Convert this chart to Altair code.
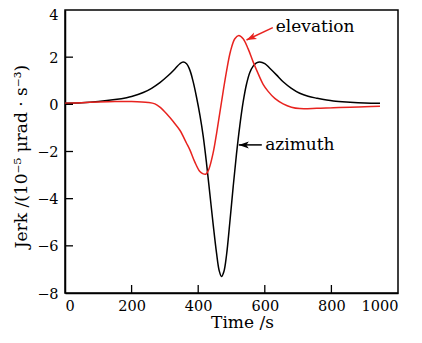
import altair as alt
import pandas as pd

# ---- data ----
az_t = [0, 50, 100, 150, 185, 200, 235, 260, 285, 310, 330, 345, 355, 365, 375, 385, 395,
        405, 415, 425, 435, 445, 455, 463, 470, 477, 485, 495, 505, 515, 525, 535, 545,
        555, 565, 575, 585, 600, 615, 635, 655, 680, 705, 730, 756, 806, 856, 900, 946]
az_v = [0.05, 0.07, 0.12, 0.2, 0.28, 0.33, 0.5, 0.68, 0.92, 1.22, 1.5, 1.72, 1.79, 1.72,
        1.45, 0.95, 0.3, -0.45, -1.35, -2.5, -3.8, -5.1, -6.3, -7.05, -7.3, -7.1, -6.4,
        -5.0, -3.5, -2.1, -0.9, 0.1, 0.85, 1.35, 1.62, 1.76, 1.8, 1.73, 1.53, 1.25, 0.96,
        0.68, 0.47, 0.34, 0.26, 0.14, 0.09, 0.06, 0.05]

el_t = [0, 50, 100, 150, 200, 250, 270, 285, 305, 325, 345, 365, 375, 390, 405, 415, 423,
        432, 445, 455, 465, 475, 485, 497, 510, 522, 535, 550, 565, 580, 595, 610, 630,
        655, 680, 705, 756, 806, 856, 900, 946]
el_v = [0.05, 0.07, 0.1, 0.12, 0.12, 0.08, 0.02, -0.12, -0.4, -0.73, -1.1, -1.65, -1.93,
        -2.45, -2.85, -2.95, -2.96, -2.75, -2.05, -1.25, -0.35, 0.55, 1.4, 2.25, 2.78, 2.92,
        2.78, 2.35, 1.8, 1.3, 0.85, 0.55, 0.25, 0.02, -0.12, -0.18, -0.17, -0.14, -0.12,
        -0.1, -0.08]

series_names = ["azimuth", "elevation"]
series_colors = ["#000000", "#e8231f"]

x_ticks = [0, 200, 400, 600, 800, 1000]
y_ticks = [-8, -6, -4, -2, 0, 2, 4]
x_inner = [200, 400, 600, 800]
y_inner = [-6, -4, -2, 0, 2]

labels = ["elevation", "azimuth"]
label_t = [633, 601]
label_v = [3.3, -1.72]

# arrow lines: start (at label) and head (at curve)
arrow_series = ["elevation", "azimuth"]
arrow_t0 = [624, 591]
arrow_v0 = [3.25, -1.72]
arrow_t1 = [545, 522]
arrow_v1 = [2.73, -1.72]
arrow_angle = [335, 0]

FONT = "DejaVu Serif"
W, H = 333, 283

df = pd.concat([
    pd.DataFrame({"t": az_t, "v": az_v, "s": "azimuth"}),
    pd.DataFrame({"t": el_t, "v": el_v, "s": "elevation"}),
])

xs = alt.Scale(domain=[0, 1000], nice=False)
ys = alt.Scale(domain=[-8, 4], nice=False)
cs = alt.Scale(domain=series_names, range=series_colors)

lines = alt.Chart(df).mark_line(strokeWidth=1.5, interpolate="catmull-rom").encode(
    x=alt.X("t:Q", scale=xs, axis=alt.Axis(
        values=x_ticks, format="d", ticks=False, grid=False, title="Time /s",
        labelPadding=6, titlePadding=2, titleX=177)),
    y=alt.Y("v:Q", scale=ys, axis=alt.Axis(
        values=y_ticks, format="d", ticks=False, grid=False,
        title="Jerk /(10⁻⁵ μrad · s⁻³)", labelPadding=7,
        labelOffset={"condition": {"test": "datum.value === 4", "value": 5}, "value": 1},
        titleX=-44, titleY=146, titleBaseline="middle")),
    color=alt.Color("s:N", scale=cs, legend=None),
    order=alt.Order("t:Q"),
)

xt = alt.Chart(pd.DataFrame({"t": x_inner})).mark_rule(color="black", strokeWidth=1.3).encode(
    x=alt.X("t:Q", scale=xs), y=alt.value(H), y2=alt.value(H - 8))
yt = alt.Chart(pd.DataFrame({"v": y_inner})).mark_rule(color="black", strokeWidth=1.3).encode(
    y=alt.Y("v:Q", scale=ys), x=alt.value(0), x2=alt.value(8))

lab = alt.Chart(pd.DataFrame({"t": label_t, "v": label_v, "txt": labels})).mark_text(
    align="left", baseline="middle", font=FONT, fontSize=17, color="black").encode(
    x=alt.X("t:Q", scale=xs), y=alt.Y("v:Q", scale=ys), text="txt:N")

adf = pd.DataFrame({"t0": arrow_t0, "v0": arrow_v0, "t1": arrow_t1, "v1": arrow_v1,
                    "s": arrow_series, "ang": arrow_angle})
arr = alt.Chart(adf).mark_rule(strokeWidth=1.5).encode(
    x=alt.X("t0:Q", scale=xs), y=alt.Y("v0:Q", scale=ys),
    x2="t1:Q", y2="v1:Q",
    color=alt.Color("s:N", scale=cs, legend=None))
heads = alt.Chart(adf).mark_point(
    shape="M 0 0 L 2 -0.7 L 1.5 0 L 2 0.7 Z", filled=True, size=100, opacity=1,
    strokeWidth=0).encode(
    x=alt.X("t1:Q", scale=xs), y=alt.Y("v1:Q", scale=ys),
    angle=alt.Angle("ang:Q", scale=None),
    color=alt.Color("s:N", scale=cs, legend=None))

chart = alt.layer(lines, xt, yt, arr, heads, lab).properties(
    width=W, height=H,
    padding={"left": 57, "top": 2, "right": 16, "bottom": 40},
    autosize=alt.AutoSizeParams(type="none"),
).configure_view(stroke="black", strokeWidth=1.5).configure_axis(
    domainColor="black", domainWidth=1.5,
    labelFont=FONT, labelFontSize=14.5, labelColor="black",
    titleFont=FONT, titleFontSize=17, titleFontWeight="normal", titleColor="black",
)

chart.save("out.html", embed_options={"renderer": "svg", "actions": False})
